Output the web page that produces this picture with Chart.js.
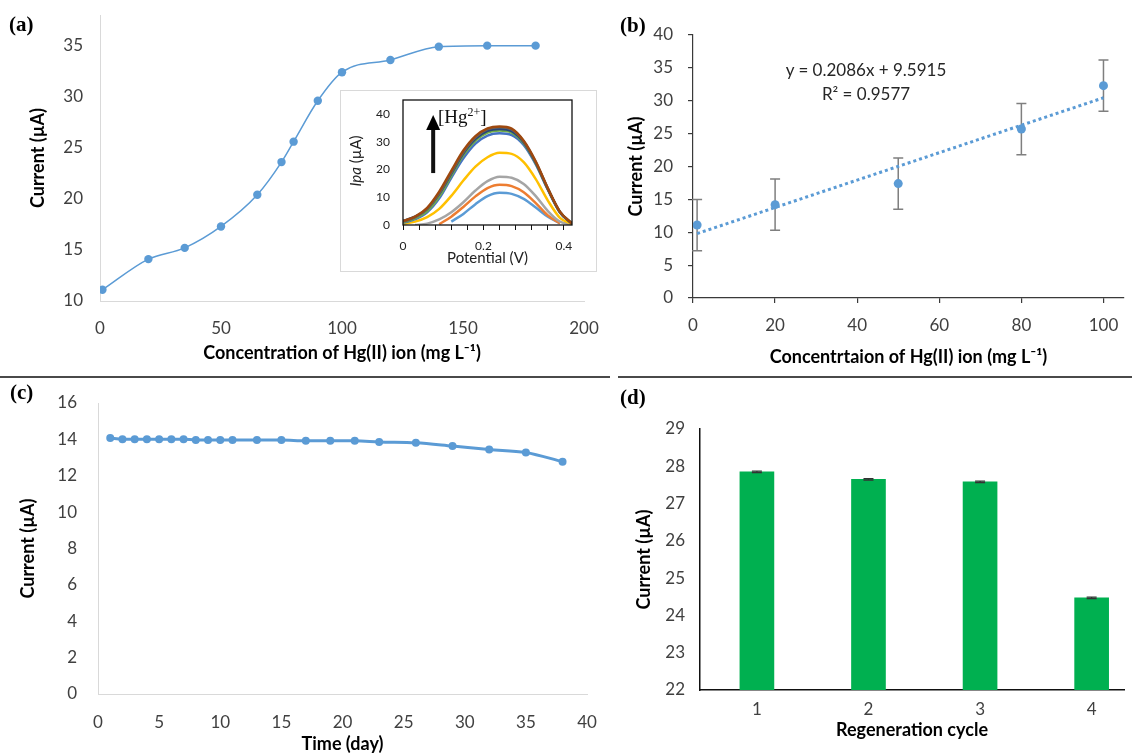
<!DOCTYPE html>
<html>
<head>
<meta charset="utf-8">
<script src="https://cdn.jsdelivr.net/npm/chart.js@4.4.0/dist/chart.umd.min.js"></script>
<style>
  body { margin: 0; background: #fff; width: 1132px; height: 755px; overflow: hidden; position: relative; font-family: Lato, sans-serif; }
  .box { position: absolute; }
  .lbl { position: absolute; font-family: "Liberation Serif", serif; font-weight: bold; font-size: 21px; line-height: 24px; color: #000; }
  .sep { position: absolute; top: 376px; height: 1.5px; background: #4a4a4a; }
  .txt { position: absolute; font-size: 17px; line-height: 20px; color: #262626; text-align: center; }
</style>
</head>
<body>
<div class="box" style="left:0;top:0;width:600px;height:372px"><canvas id="ca"></canvas></div>
<div class="box" style="left:340px;top:90px;width:257px;height:182px;border:1px solid #d9d9d9;box-sizing:border-box;background:#fff">
  <canvas id="cin"></canvas>
</div>
<div class="box" style="left:305px;top:151px;width:100px;height:20px;line-height:20px;font-size:15px;color:#222;text-align:center;transform:rotate(-90deg)"><i>Ipa</i> (µA)</div>
<div class="box" style="left:438px;top:101px;font-family:'Liberation Serif',serif;font-size:19px;line-height:22px;color:#111">[Hg<span style="font-size:12px;vertical-align:7px">2+</span>]</div>

<div class="box" style="left:600px;top:0;width:532px;height:372px"><canvas id="cb"></canvas></div>
<div class="txt" style="left:766px;top:60px;width:200px">y = 0.2086x + 9.5915</div>
<div class="txt" style="left:766px;top:84px;width:200px">R² = 0.9577</div>

<div class="box" style="left:0;top:380px;width:600px;height:375px"><canvas id="cc"></canvas></div>
<div class="box" style="left:600px;top:380px;width:532px;height:375px"><canvas id="cd"></canvas></div>

<div class="sep" style="left:0;width:610px"></div>
<div class="sep" style="left:618px;width:514px"></div>
<div class="lbl" style="left:9px;top:12px">(a)</div>
<div class="lbl" style="left:620px;top:13px">(b)</div>
<div class="lbl" style="left:10px;top:380px">(c)</div>
<div class="lbl" style="left:620px;top:385px">(d)</div>

<script>
// (a) peak current vs Hg(II) concentration
const concA = [1, 20, 35, 50, 65, 75, 80, 90, 100, 120, 140, 160, 180];
const currentA = [11.1, 14.1, 15.2, 17.3, 20.4, 23.6, 25.6, 29.6, 32.4, 33.6, 34.9, 35.0, 35.0];

// inset: DPV curves
const potential = [0, 0.03, 0.06, 0.09, 0.12, 0.15, 0.18, 0.21, 0.24, 0.27, 0.30, 0.33, 0.36, 0.39, 0.42];
const ipaBrown = [1.4, 3.0, 6.2, 12.0, 19.5, 26.8, 32.0, 34.8, 35.5, 34.7, 30.3, 22.8, 13.2, 4.8, 0.5];
const ipaDarkGray = [1.2, 2.7, 5.7, 11.3, 18.8, 26.2, 31.6, 34.5, 35.2, 34.4, 30.1, 22.6, 13.1, 4.7, 0.5];
const ipaNavy = [1.5, 3.0, 5.8, 11.2, 18.5, 25.8, 31.0, 33.9, 34.6, 33.8, 29.8, 22.4, 13.0, 4.7, 0.5];
const ipaGreen = [1.0, 2.4, 5.0, 10.3, 17.8, 25.2, 30.4, 33.3, 34.0, 33.3, 29.4, 22.2, 12.9, 4.6, 0.5];
const ipaBlue = [0.8, 2.1, 4.6, 9.6, 17.0, 24.0, 29.3, 32.2, 33.0, 32.4, 28.8, 21.8, 12.7, 4.5, 0.5];
const ipaYellow = [0.4, 1.2, 2.8, 5.8, 10.5, 16.0, 21.0, 24.4, 26.0, 25.6, 22.6, 16.5, 8.8, 2.6, 0.3];
const ipaGray = [null, 0, 0.5, 2.0, 4.6, 8.2, 12.4, 15.8, 17.4, 17.0, 14.8, 10.4, 5.0, 1.2, 0.2];
const ipaOrange = [null, null, null, 0.3, 3.0, 6.5, 10.3, 13.3, 14.5, 14.0, 11.8, 7.9, 3.4, 0.6, null];
const ipaLightBlue = [null, null, null, null, 1.2, 4.0, 7.5, 10.4, 11.6, 11.2, 9.4, 6.3, 3.0, 0.7, null];
const arrowX = 0.075, arrowFrom = 18.7, arrowTo = 39.6;

// (b) calibration
const concB = [1, 20, 50, 80, 100];
const currentB = [11.1, 14.2, 17.4, 25.7, 32.3];
const errB = [3.9, 3.9, 3.9, 3.9, 3.9];
const fitX = [1, 100];
const fitY = [9.80, 30.45];

// (c) stability
const days = [1, 2, 3, 4, 5, 6, 7, 8, 9, 10, 11, 13, 15, 17, 19, 21, 23, 26, 29, 32, 35, 38];
const currentC = [14.08, 14.01, 14.01, 14.01, 14.01, 14.01, 14.01, 13.97, 13.97, 13.97, 13.97,
  13.96, 13.96, 13.92, 13.92, 13.92, 13.86, 13.81, 13.63, 13.44, 13.28, 12.77];

// (d) regeneration
const cycles = [1, 2, 3, 4];
const currentD = [27.85, 27.65, 27.58, 24.47];
const errD = [0.02, 0.02, 0.02, 0.02];

const BLUE = '#5B9BD5';
Chart.defaults.font.family = 'Lato, "Open Sans", sans-serif';
Chart.defaults.color = '#404040';
Chart.defaults.animation = false;

const pts = (xs, ys) => xs.map((x, i) => ({ x: x, y: ys[i] }));

// labels are pushed off the axis with invisible tick marks, so ticks.padding
// (which chart.js also adds to the plot edge padding) stays small
const linAxis = (o) => ({
  type: 'linear',
  min: o.min,
  max: o.max,
  offset: false,
  ticks: {
    stepSize: o.step,
    includeBounds: false,
    autoSkip: false,
    maxRotation: 0,
    padding: o.tick ? o.pad : 0,
    color: o.tickColor || '#404040',
    font: { size: o.font || 17 },
    callback: o.labels || ((v) => v)
  },
  grid: o.tick
    ? { display: true, offset: false, drawOnChartArea: false, drawTicks: true, tickLength: o.tick, color: o.line.color, lineWidth: o.line.width }
    : { display: true, offset: false, drawOnChartArea: false, drawTicks: true, tickLength: o.pad, color: 'rgba(0,0,0,0)' },
  border: o.line.show === false ? { display: false } : { display: true, color: o.line.color, width: o.line.width },
  title: o.title
    ? { display: true, text: o.title, color: o.titleColor || '#000', font: { size: o.titleSize || 18, weight: o.titleWeight || 'bold' }, padding: o.titlePad }
    : { display: false },
  afterFit: (s) => { if (o.isY) s.width = o.fit; else s.height = o.fit; }
});

const baseOptions = (padding, scales) => ({
  responsive: true,
  maintainAspectRatio: false,
  animation: false,
  layout: { padding: padding },
  plugins: { legend: { display: false }, tooltip: { enabled: false } },
  scales: scales
});

const drawErrors = (chart, o) => {
  const { ctx, scales: { x, y } } = chart;
  ctx.save();
  ctx.strokeStyle = o.color;
  ctx.lineWidth = o.width;
  o.xs.forEach((xv, i) => {
    const px = x.getPixelForValue(xv);
    const top = y.getPixelForValue(o.ys[i] + o.errs[i]);
    const bot = y.getPixelForValue(o.ys[i] - o.errs[i]);
    ctx.beginPath();
    ctx.moveTo(px, top); ctx.lineTo(px, bot);
    ctx.moveTo(px - o.cap, top); ctx.lineTo(px + o.cap, top);
    ctx.moveTo(px - o.cap, bot); ctx.lineTo(px + o.cap, bot);
    ctx.stroke();
  });
  ctx.restore();
};

const errorBars = {
  id: 'errorBars',
  beforeDatasetsDraw(chart, args, o) { if (o.xs && o.under) drawErrors(chart, o); },
  afterDatasetsDraw(chart, args, o) { if (o.xs && !o.under) drawErrors(chart, o); }
};

const insetDecor = {
  id: 'insetDecor',
  afterDraw(chart) {
    const { ctx, chartArea: a, scales: { x, y } } = chart;
    ctx.save();
    ctx.strokeStyle = '#111';
    ctx.lineWidth = 1.3;
    ctx.strokeRect(a.left, a.top, a.right - a.left, a.bottom - a.top);
    const ax = x.getPixelForValue(arrowX);
    const y0 = y.getPixelForValue(arrowFrom);
    const y1 = y.getPixelForValue(arrowTo);
    ctx.fillStyle = '#000';
    ctx.lineWidth = 4;
    ctx.beginPath(); ctx.moveTo(ax, y0); ctx.lineTo(ax, y1 + 12); ctx.stroke();
    ctx.beginPath(); ctx.moveTo(ax, y1); ctx.lineTo(ax - 7, y1 + 15); ctx.lineTo(ax + 7, y1 + 15); ctx.closePath(); ctx.fill();
    ctx.restore();
  }
};

// (a)
new Chart(document.getElementById('ca'), {
  type: 'line',
  data: {
    datasets: [{
      data: pts(concA, currentA),
      borderColor: BLUE, backgroundColor: BLUE, borderWidth: 1.5,
      pointRadius: 4.2, pointBorderWidth: 0, cubicInterpolationMode: 'monotone'
    }]
  },
  options: baseOptions({ top: 15, right: 16, left: 0, bottom: 0 }, {
    x: linAxis({ min: 0, max: 200, step: 50, pad: 17, fit: 71, title: 'Concentration of Hg(II) ion (mg L⁻¹)', titlePad: { top: 0, bottom: 8 }, line: { color: '#d9d9d9', width: 1 } }),
    y: linAxis({ min: 10, max: 38, step: 5, pad: 17, fit: 100, isY: true, title: 'Current (µA)', titlePad: { top: 27, bottom: 0 }, line: { color: '#d9d9d9', width: 1 } })
  })
});

// inset
const insetSets = [
  [ipaBrown, '#9E480E'], [ipaDarkGray, '#636363'], [ipaNavy, '#264478'], [ipaGreen, '#70AD47'],
  [ipaBlue, '#4472C4'], [ipaYellow, '#FFC000'], [ipaGray, '#A5A5A5'], [ipaOrange, '#ED7D31'], [ipaLightBlue, '#5B9BD5']
];
new Chart(document.getElementById('cin'), {
  type: 'line',
  data: {
    datasets: insetSets.map(([vals, col]) => ({
      data: pts(potential, vals),
      borderColor: col, borderWidth: 2.5, pointRadius: 0, cubicInterpolationMode: 'monotone', spanGaps: false
    }))
  },
  options: baseOptions({ top: 9, right: 24, left: 0, bottom: 0 }, {
    x: linAxis({
      min: 0, max: 0.42, step: 0.04, pad: 9, fit: 46, font: 12, tick: 5, tickColor: '#222',
      labels: (v) => ([0, 0.2, 0.4].some((t) => Math.abs(v - t) < 1e-6) ? (v === 0 ? '0' : v.toFixed(1)) : ''),
      title: 'Potential (V)', titleSize: 15, titleWeight: 'normal', titleColor: '#222', titlePad: { top: 0, bottom: 4 },
      line: { color: '#111', width: 1, show: false }
    }),
    y: linAxis({ min: 0, max: 45, step: 10, pad: 13, fit: 62, isY: true, font: 12, tickColor: '#222', line: { color: '#111', width: 1, show: false } })
  }),
  plugins: [insetDecor]
});

// (b)
const optB = baseOptions({ top: 35, right: 8, left: 0, bottom: 0 }, {
  x: linAxis({ min: 0, max: 105, step: 20, pad: 12, fit: 74, tick: 5, title: 'Concentrtaion of Hg(II) ion (mg L⁻¹)', titlePad: { top: 0, bottom: 4 }, line: { color: '#3a3a3a', width: 1.2 } }),
  y: linAxis({ min: 0, max: 40, step: 5, pad: 15, fit: 93, isY: true, tick: 5, title: 'Current (µA)', titlePad: { top: 25, bottom: 0 }, line: { color: '#3a3a3a', width: 1.2 } })
});
optB.plugins.errorBars = { xs: concB, ys: currentB, errs: errB, color: '#7f7f7f', width: 1.5, cap: 5, under: true };
new Chart(document.getElementById('cb'), {
  type: 'scatter',
  data: {
    datasets: [
      { data: pts(concB, currentB), backgroundColor: BLUE, borderColor: BLUE, pointRadius: 4.5, pointBorderWidth: 0 },
      { data: pts(fitX, fitY), showLine: true, borderColor: BLUE, borderWidth: 3, borderDash: [3, 3], pointRadius: 0 }
    ]
  },
  options: optB,
  plugins: [errorBars]
});

// (c)
new Chart(document.getElementById('cc'), {
  type: 'line',
  data: {
    datasets: [{
      data: pts(days, currentC),
      borderColor: BLUE, backgroundColor: BLUE, borderWidth: 3,
      pointRadius: 4, pointBorderWidth: 0, cubicInterpolationMode: 'monotone'
    }]
  },
  options: baseOptions({ top: 23, right: 13, left: 0, bottom: 0 }, {
    x: linAxis({ min: 0, max: 40, step: 5, pad: 18, fit: 61, title: 'Time (day)', titlePad: { top: 0, bottom: 0 }, line: { color: '#d9d9d9', width: 1 } }),
    y: linAxis({ min: 0, max: 16, step: 2, pad: 21, fit: 98, isY: true, title: 'Current (µA)', titlePad: { top: 17, bottom: 0 }, line: { color: '#d9d9d9', width: 1 } })
  })
});

// (d)
const optD = baseOptions({ top: 49, right: 8, left: 0, bottom: 0 }, {
  x: linAxis({ min: 0.49, max: 4.29, step: 1, pad: 9, fit: 65, title: 'Regeneration cycle', titlePad: { top: 0, bottom: 14 }, line: { color: '#111', width: 1.5 } }),
  y: linAxis({ min: 22, max: 29, step: 1, pad: 15, fit: 100, isY: true, title: 'Current (µA)', titlePad: { top: 33, bottom: 0 }, line: { color: '#111', width: 1.5 } })
});
optD.plugins.errorBars = { xs: cycles, ys: currentD, errs: errD, color: '#333', width: 1.2, cap: 5, under: false };
new Chart(document.getElementById('cd'), {
  type: 'bar',
  data: {
    datasets: [{ data: pts(cycles, currentD), backgroundColor: '#00B050', barThickness: 34 }]
  },
  options: optD,
  plugins: [errorBars]
});
</script>
</body>
</html>
